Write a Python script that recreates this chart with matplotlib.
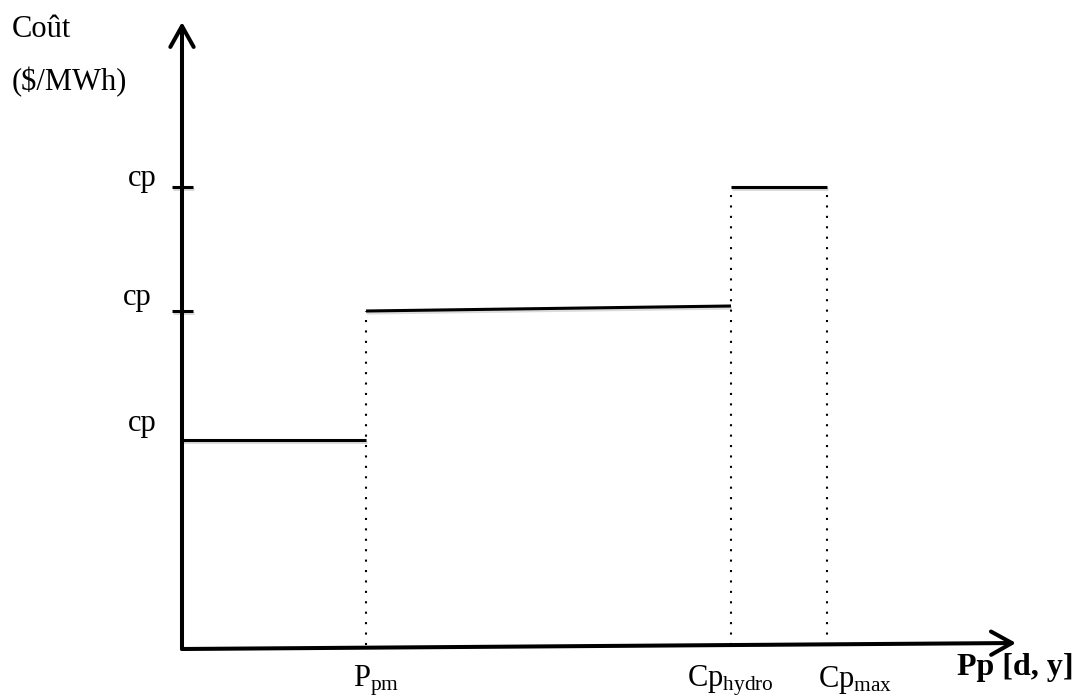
import matplotlib
matplotlib.use("Agg")
import matplotlib.pyplot as plt
import matplotlib.patheffects as pe
from matplotlib import rcParams

rcParams["font.family"] = ["Liberation Serif", "DejaVu Serif"]
rcParams["mathtext.fontset"] = "custom"
rcParams["mathtext.rm"] = "Liberation Serif"
rcParams["mathtext.it"] = "Liberation Serif:italic"
rcParams["mathtext.bf"] = "Liberation Serif:bold"

font_size = 22

# schematic cost curve (arbitrary units, origin at the axes corner)
break_x = [184, 549, 645]            # P_pm, Cp_hydro, Cp_max
step_x = [[0, 184], [184, 549], [549, 645]]
step_y = [[209, 209], [338, 343], [462, 462]]
guide_top = [338, 462, 462]          # dotted guides from axis up to the step
tick_y = [338, 462]
axis_x_end = [834, 6]                # x axis runs slightly upward
axis_y_end = [0, 627]

cost_labels = ["cp", "cp", "cp"]
cost_label_pos = [(-54, 463), (-59, 344), (-54, 218)]
x_labels = [r"$\mathrm{P}_{\mathrm{pm}}$", r"$\mathrm{Cp}_{\mathrm{hydro}}$", r"$\mathrm{Cp}_{\mathrm{max}}$"]
x_label_pos = [(171, -37), (505, -38), (636, -38)]


def main():
    fig = plt.figure(figsize=(10.76, 6.98), dpi=100)
    ax = fig.add_axes([0, 0, 1, 1])
    ax.set_xlim(-182, 894)
    ax.set_ylim(-49, 649)
    ax.axis("off")

    shadow = [pe.SimpleLineShadow(offset=(0.5, -1.5), shadow_color="0.6", alpha=0.35), pe.Normal()]

    # axes with open arrow heads
    arrow_kw = dict(arrowstyle="->,head_length=0.75,head_width=0.42", lw=2.9, color="black",
                    mutation_scale=20, shrinkA=0, shrinkB=0, capstyle="round", joinstyle="round")
    ax.annotate("", xy=tuple(axis_x_end), xytext=(0, 0), arrowprops=arrow_kw)
    ax.annotate("", xy=tuple(axis_y_end), xytext=(0, 0), arrowprops=arrow_kw)

    # ticks on the cost axis
    for y in tick_y:
        ax.plot([-10, 11], [y, y], color="black", lw=2.2, solid_capstyle="butt", path_effects=shadow)

    # dotted guides
    for x, top in zip(break_x, guide_top):
        ax.plot([x, x], [4, top], color="black", lw=1.5, linestyle=(0, (1, 4)))

    # cost steps
    for xs, ys in zip(step_x, step_y):
        ax.plot(xs, ys, color="black", lw=2.2, solid_capstyle="butt", path_effects=shadow)

    for s, (x, y) in zip(cost_labels, cost_label_pos):
        ax.text(x, y, s, fontsize=font_size, ha="left", va="baseline")
    for s, (x, y) in zip(x_labels, x_label_pos):
        ax.text(x, y, s, fontsize=font_size, ha="left", va="baseline")

    ax.text(-170, 612, "Coût", fontsize=font_size, ha="left", va="baseline")
    ax.text(-170, 559, "($/MWh)", fontsize=font_size, ha="left", va="baseline")
    ax.text(775, -26, "Pp [d, y]", fontsize=font_size + 1, fontweight="bold", ha="left", va="baseline")

    fig.savefig("out.png", dpi=100)


if __name__ == "__main__":
    main()
